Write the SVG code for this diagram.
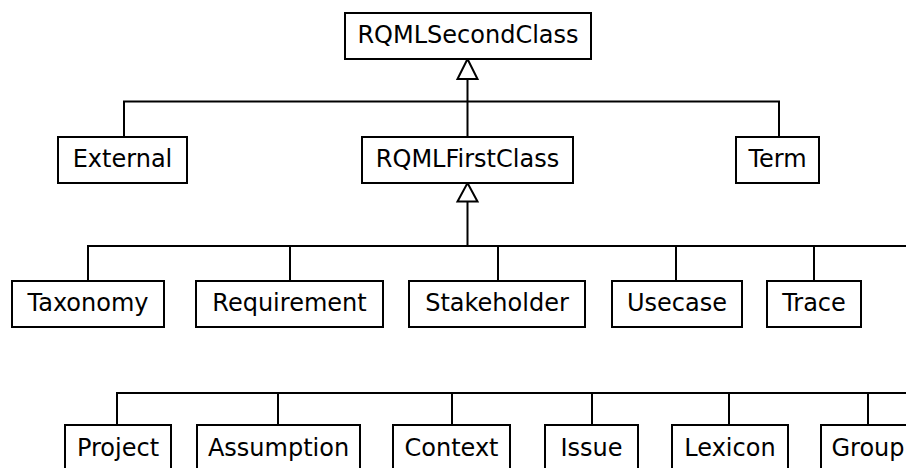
<svg xmlns="http://www.w3.org/2000/svg" width="906" height="468" viewBox="0 0 906 468">
<style>
.box{fill:#fff;stroke:#000;stroke-width:2}
.lbl{font-family:"DejaVu Sans",Verdana,sans-serif;font-size:24px;text-anchor:middle;fill:#000}
.ln{fill:none;stroke:#000;stroke-width:2}
.tri{fill:#fff;stroke:#000;stroke-width:2;stroke-linejoin:miter}
</style>
<rect width="906" height="468" fill="#fff"/>
<g id="connectors">
<path class="ln" d="M467.5 79V137M124 137V101.5H779V137"/>
<path class="tri" d="M467.5 59L477.5 79H457.5Z"/>
<path class="ln" d="M467.5 201.5V246M88 281V246H906M290 246V281M498 246V281M676 246V281M814 246V281"/>
<path class="tri" d="M467.5 183L477.5 201.5H457.5Z"/>
<path class="ln" d="M117 425V393H906M278 393V425M452 393V425M592 393V425M729 393V425M868 393V425"/>
</g>
<g id="RQMLSecondClass"><rect class="box" x="345" y="13" width="246" height="46"/><text class="lbl" x="468" y="43">RQMLSecondClass</text></g>
<g id="External"><rect class="box" x="58" y="137" width="129" height="46"/><text class="lbl" x="122.5" y="166.5">External</text></g>
<g id="RQMLFirstClass"><rect class="box" x="362" y="137" width="211" height="46"/><text class="lbl" x="467.5" y="166.5">RQMLFirstClass</text></g>
<g id="Term"><rect class="box" x="736" y="137" width="83" height="46"/><text class="lbl" x="777.5" y="166.5">Term</text></g>
<g id="Taxonomy"><rect class="box" x="12" y="281" width="152" height="46"/><text class="lbl" x="88" y="310.5">Taxonomy</text></g>
<g id="Requirement"><rect class="box" x="196" y="281" width="187" height="46"/><text class="lbl" x="289.5" y="310.5">Requirement</text></g>
<g id="Stakeholder"><rect class="box" x="409" y="281" width="176" height="46"/><text class="lbl" x="497" y="310.5">Stakeholder</text></g>
<g id="Usecase"><rect class="box" x="612" y="281" width="130" height="46"/><text class="lbl" x="677" y="310.5">Usecase</text></g>
<g id="Trace"><rect class="box" x="767" y="281" width="94" height="46"/><text class="lbl" x="814" y="310.5">Trace</text></g>
<g id="Project"><rect class="box" x="65" y="425" width="106" height="50"/><text class="lbl" x="118" y="456">Project</text></g>
<g id="Assumption"><rect class="box" x="197" y="425" width="163" height="50"/><text class="lbl" x="278.5" y="456">Assumption</text></g>
<g id="Context"><rect class="box" x="393" y="425" width="117" height="50"/><text class="lbl" x="451.5" y="456">Context</text></g>
<g id="Issue"><rect class="box" x="545" y="425" width="93" height="50"/><text class="lbl" x="591.5" y="456">Issue</text></g>
<g id="Lexicon"><rect class="box" x="672" y="425" width="116" height="50"/><text class="lbl" x="730" y="456">Lexicon</text></g>
<g id="Group"><rect class="box" x="821" y="425" width="94" height="50"/><text class="lbl" x="868" y="456">Group</text></g>
</svg>
